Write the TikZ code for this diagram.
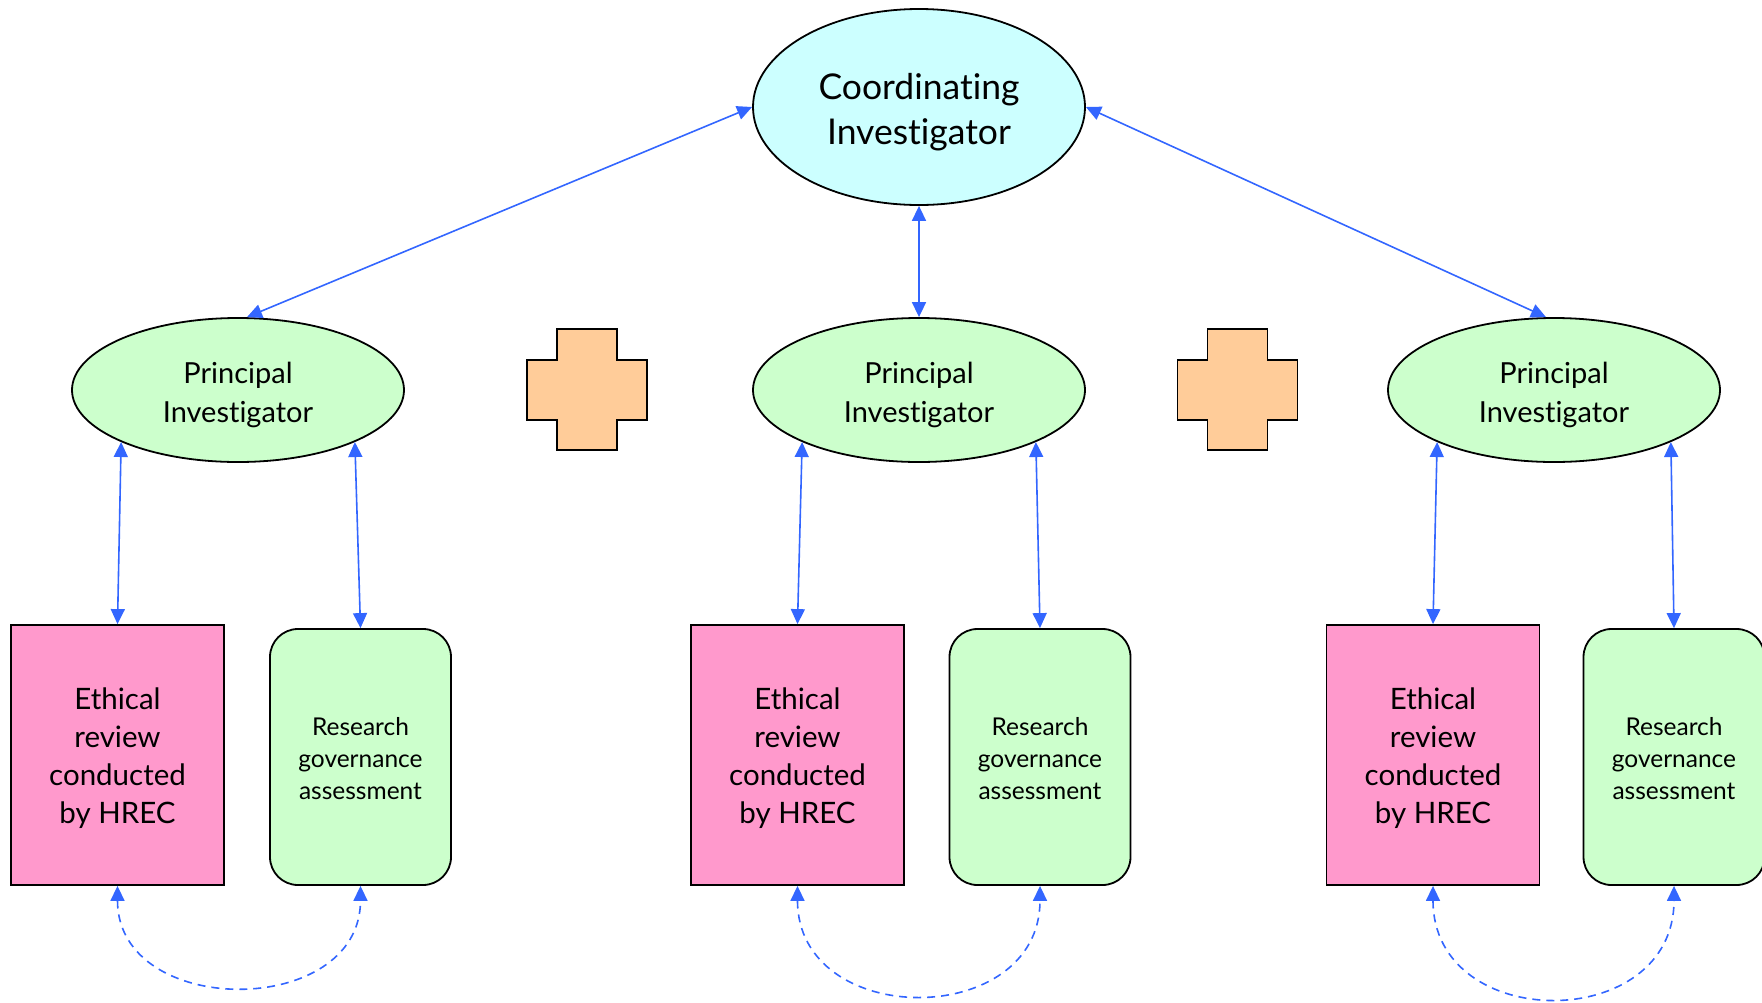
\documentclass[tikz,border=0pt]{standalone}
\usepackage{fontspec}
\setmainfont{Lato}[Ligatures={NoCommon,NoDiscretionary,NoRare}]
\usetikzlibrary{shapes.geometric,arrows.meta}
\definecolor{cifill}{HTML}{CCFFFF}
\definecolor{pifill}{HTML}{CCFFCC}
\definecolor{ethfill}{HTML}{FF99CC}
\definecolor{crossfill}{HTML}{FFCC99}
\definecolor{arrblue}{HTML}{3366FF}
\begin{document}
\begin{tikzpicture}[x=1pt,y=-1pt,
  ci/.style={ellipse,draw=black,line width=1.8pt,fill=cifill,minimum width=332pt,minimum height=196pt,inner sep=0pt},
  pinode/.style={ellipse,draw=black,line width=1.8pt,fill=pifill,minimum width=332pt,minimum height=144pt,inner sep=0pt},
  ethbox/.style={rectangle,draw=black,line width=1.8pt,fill=ethfill,minimum width=213pt,minimum height=260pt,inner sep=0pt},
  rgbox/.style={rectangle,rounded corners=28pt,draw=black,line width=1.8pt,fill=pifill,minimum width=181pt,minimum height=256pt,inner sep=0pt},
  citext/.style={align=center,inner sep=0pt,font=\fontsize{35.5}{45}\selectfont},
  pitext/.style={align=center,inner sep=0pt,font=\fontsize{29}{39}\selectfont},
  ethtext/.style={align=center,inner sep=0pt,font=\fontsize{29.5}{38}\selectfont},
  rgtext/.style={align=center,inner sep=0pt,font=\fontsize{24.5}{32}\selectfont},
  crossst/.style={draw=black,line width=1.8pt,fill=crossfill},
  link/.style={draw=arrblue,line width=1.6pt,{Triangle[length=15pt,width=14pt]}-{Triangle[length=15pt,width=14pt]}},
  dlink/.style={link,dash pattern=on 8pt off 6pt}
]
\useasboundingbox (0,0) rectangle (1762,1002);

\node[ci] (ci) at (919,107) {};
\node[citext] (cit) at (919,112.5) {Coordinating\\Investigator};

\foreach \i/\x in {1/238,2/919,3/1554}{
  \node[pinode] (pi\i) at (\x,390) {};
  \node[pitext] (pit\i) at (\x,394.5) {Principal\\Investigator};
}

\foreach \i/\x in {1/117.5,2/797.5,3/1433}{
  \node[ethbox] (eth\i) at (\x,755) {};
  \node[ethtext] (etht\i) at (\x,758.5) {Ethical\\review\\conducted\\by HREC};
}

\foreach \i/\x in {1/360.5,2/1040,3/1674}{
  \node[rgbox] (rg\i) at (\x,757) {};
  \node[rgtext] (rgt\i) at (\x,759) {Research\\governance\\assessment};
}

\foreach \cx in {587,1237.5}{
  \draw[crossst] (\cx-30,329) -- (\cx+30,329) -- (\cx+30,360) -- (\cx+60,360) -- (\cx+60,420)
    -- (\cx+30,420) -- (\cx+30,450) -- (\cx-30,450) -- (\cx-30,420) -- (\cx-60,420)
    -- (\cx-60,360) -- (\cx-30,360) -- cycle;
}

\draw[link] (ci.west) -- ([xshift=9pt]pi1.north);
\draw[link] (ci.south) -- (pi2.north);
\draw[link] (ci.east) -- ([xshift=-8pt]pi3.north);

\draw[link] (pi1.-156) -- (eth1.north);
\draw[link] (pi1.-24) -- (rg1.north);
\draw[link] (pi2.-156) -- (eth2.north);
\draw[link] (pi2.-24) -- (rg2.north);
\draw[link] (pi3.-156) -- (eth3.north);
\draw[link] (pi3.-24) -- (rg3.north);

\draw[dlink] (eth1.south) .. controls +(0,133) and +(0,133) .. (rg1.south);
\draw[dlink] (eth2.south) .. controls +(0,144) and +(0,144) .. (rg2.south);
\draw[dlink] (eth3.south) .. controls +(0,148) and +(0,148) .. (rg3.south);
\end{tikzpicture}
\end{document}
